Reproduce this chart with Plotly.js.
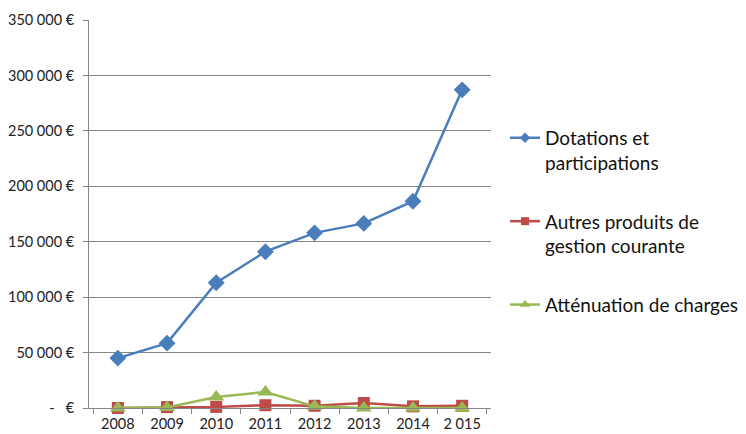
<!DOCTYPE html>
<html>
<head>
<meta charset="utf-8">
<script src="https://cdn.plot.ly/plotly-3.0.1.min.js"></script>
<style>
  html, body { margin: 0; padding: 0; background: #fff; }
  #chart { width: 746px; height: 434px; }
</style>
</head>
<body>
<div id="chart"></div>
<script>
// years as shown on the axis
const years = ["2008", "2009", "2010", "2011", "2012", "2013", "2014", "2 015"];

// values (euros)
const dotations = [45000, 58500, 113000, 141000, 158000, 166500, 186500, 287000];
const autresProduits = [0, 800, 1000, 2500, 2000, 4500, 1500, 2000];
const attenuation = [0, 500, 10000, 14500, 1500, 0, 0, 0];

const yTickVals = [0, 50000, 100000, 150000, 200000, 250000, 300000, 350000];
const yTickText = ["-   €", "50\u202F000\u202F€", "100\u202F000\u202F€", "150\u202F000\u202F€", "200\u202F000\u202F€",
  "250\u202F000\u202F€", "300\u202F000\u202F€", "350\u202F000\u202F€"];

const seriesNames = ["Dotations et<br>participations", "Autres produits de<br>gestion courante", "Atténuation de charges"];
const colors = ['#4A7EBB', '#BE4B48', '#98B954'];
const symbols = ['diamond', 'square', 'triangle-up'];

function makeTrace(y, i, size) {
  return {
    x: years,
    y: y,
    name: seriesNames[i],
    showlegend: false,
    type: 'scatter',
    mode: 'lines+markers',
    line: { color: colors[i], width: 2.5 },
    marker: { color: colors[i], symbol: symbols[i], size: size },
    cliponaxis: false
  };
}

// legend entries use smaller markers, like the original
function legendTrace(i, size) {
  return {
    x: [null],
    y: [null],
    name: seriesNames[i],
    legendgroup: 'g' + i,
    type: 'scatter',
    mode: 'lines+markers',
    line: { color: colors[i], width: 2.5 },
    marker: { color: colors[i], symbol: symbols[i], size: size }
  };
}

const data = [
  makeTrace(dotations, 0, 13),
  makeTrace(autresProduits, 1, 12),
  makeTrace(attenuation, 2, 14),
  legendTrace(0, 8),
  legendTrace(1, 8),
  legendTrace(2, 9)
];

const layout = {
  width: 746,
  height: 434,
  margin: { l: 89, r: 255, t: 20, b: 26 },
  paper_bgcolor: '#fff',
  plot_bgcolor: '#fff',
  font: { family: 'Lato, "Open Sans", sans-serif', color: '#222', size: 14 },
  showlegend: true,
  legend: {
    xref: 'container', yref: 'container',
    x: 0.677, y: 0.726, xanchor: 'left', yanchor: 'top',
    font: { size: 19, color: '#111' },
    valign: 'top',
    tracegroupgap: 31,
    itemwidth: 30
  },
  xaxis: {
    type: 'category',
    showline: true, linecolor: '#868686', linewidth: 1,
    ticks: 'outside', ticklen: 5, tickcolor: '#868686',
    tickson: 'boundaries',
    showgrid: false, zeroline: false,
    tickfont: { size: 14.5 },
    ticklabelstandoff: 3,
    fixedrange: true
  },
  yaxis: {
    range: [0, 350000],
    tickvals: yTickVals,
    ticktext: yTickText,
    showline: true, linecolor: '#868686', linewidth: 1,
    ticks: 'outside', ticklen: 5, tickcolor: '#868686',
    showgrid: true, gridcolor: '#868686', gridwidth: 1,
    zeroline: false,
    tickfont: { size: 14.5 },
    ticklabelstandoff: 6,
    fixedrange: true
  }
};

Plotly.newPlot('chart', data, layout, { displayModeBar: false, staticPlot: true });
</script>
</body>
</html>
